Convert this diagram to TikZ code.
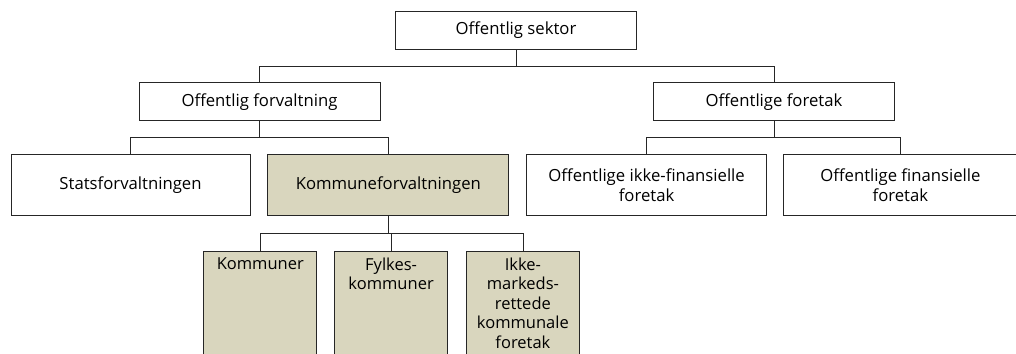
\documentclass[tikz,border=0pt]{standalone}
\usepackage{fontspec}
\setmainfont{Open Sans}
\usepackage{xcolor}
\definecolor{khaki}{RGB}{217,214,190}
\usetikzlibrary{positioning,calc}
\newcommand{\toptext}[1]{\parbox[t][100pt][t]{105pt}{\fontsize{16.5}{19.5}\selectfont\centering #1}}

\begin{document}
\begin{tikzpicture}[box/.style = {rectangle, draw=black!85, line width=0.8pt, minimum width=241pt, minimum height=38pt, inner sep=2pt, align=center}, wide/.style = {box, minimum height=61pt}, leaf/.style = {rectangle, draw=black!85, line width=0.8pt, fill=khaki, inner xsep=4pt, inner ysep=6.5pt}, tree/.style = {to path={(\tikztostart.south) |- ($(\tikztostart.south)!.5!(\tikztotarget.north)$) -| (\tikztotarget.north)}}, every edge/.append style={draw=black!85, line width=0.8pt}, font=\fontsize{16.7}{20.5}\selectfont]

\path[use as bounding box, clip] (0,0) rectangle (1016pt,-353pt);

\node[box] (top) at (516pt,-30pt) {Offentlig sektor};
\node[box] (fv) [below=33pt of top, xshift=-256.5pt] {Offentlig forvaltning};
\node[box] (fo) [below=33pt of top, xshift=258pt] {Offentlige foretak};

\node[wide, minimum width=239pt] (stat) [below=33pt of fv, xshift=-129pt] {Statsforvaltningen};
\node[wide, fill=khaki] (komm) [right=17pt of stat] {Kommuneforvaltningen};
\node[wide, minimum width=240pt] (ikfin) [right=17pt of komm] {Offentlige ikke-finansielle\\foretak};
\node[wide, minimum width=234pt] (fin) [right=16pt of ikfin] {Offentlige finansielle\\foretak};

\node[leaf] (kom) [below=35pt of komm, xshift=-128pt] {\toptext{Kommuner}};
\node[leaf] (fylk) [right=17pt of kom] {\toptext{Fylkes-\\kommuner}};
\node[leaf] (ikm) [right=18pt of fylk] {\toptext{Ikke-\\markeds-\\rettede\\kommunale\\foretak}};

\path
    (top) edge[tree] (fv)
    (top) edge[tree] (fo)
    (fv) edge[tree] (stat)
    (fv) edge[tree] (komm)
    (fo) edge[tree] (ikfin)
    (fo) edge[tree] (fin)
    (komm) edge[tree] (kom)
    (komm) edge[tree] (fylk)
    (komm) edge[tree] (ikm);
\end{tikzpicture}
\end{document}
